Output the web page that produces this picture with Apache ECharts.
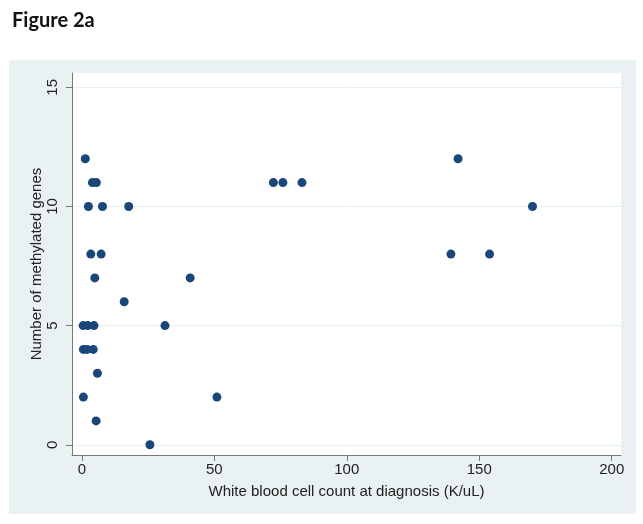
<!DOCTYPE html>
<html>
<head>
<meta charset="utf-8">
<script src="https://cdn.jsdelivr.net/npm/echarts@6/dist/echarts.min.js"></script>
<style>html,body{margin:0;padding:0;background:#fff;}#c{width:643px;height:524px;}</style>
</head>
<body>
<div id="c"></div>
<script>
const wbc = [1.3,4.0,5.5,2.5,7.8,17.7,3.4,7.3,4.9,16.0,0.5,2.3,4.6,0.6,2.0,4.3,5.9,0.6,5.4,25.7,72.3,75.9,83.1,40.9,31.4,51.0,142.0,170.1,139.3,153.9];
const genes = [12,11,11,10,10,10,8,8,7,6,5,5,5,4,4,4,3,2,1,0,11,11,11,7,5,2,12,10,8,8];
const xTicks = [0,50,100,150,200];
const yTicks = [0,5,10,15];
const points = wbc.map((v,i)=>[v,genes[i]]);

const chart = echarts.init(document.getElementById('c'), null, {renderer:'canvas'});
const font = 'Liberation Sans, Arial, sans-serif';
chart.setOption({
  animation:false,
  backgroundColor:'#ffffff',
  title:{text:'Figure 2a', left:7, top:6, textStyle:{fontFamily:'Lato, Open Sans, sans-serif', fontWeight:'bold', fontSize:20, color:'#111'}},
  graphic:[{type:'rect', z:-10, shape:{x:9,y:60,width:627,height:454}, style:{fill:'#eaf1f3'}}],
  grid:{left:72, top:73, right:22, bottom:69, show:true, backgroundColor:'#ffffff', borderWidth:0, containLabel:false},
  xAxis:{type:'value', min:-3.7, max:203.5,
    axisLine:{show:true, onZero:false, lineStyle:{color:'#777', width:1}},
    axisTick:{show:true, length:6, lineStyle:{color:'#777'}, customValues:xTicks},
    axisLabel:{fontFamily:font, fontSize:15, color:'#222', margin:7, customValues:xTicks},
    splitLine:{show:false},
    name:'White blood cell count at diagnosis (K/uL)', nameLocation:'middle', nameGap:29, nameMoveOverlap:false,
    nameTextStyle:{fontFamily:font, fontSize:15, color:'#222'}},
  yAxis:{type:'value', min:-0.43, max:15.6,
    axisLine:{show:true, onZero:false, lineStyle:{color:'#777', width:1}},
    axisTick:{show:true, length:6, lineStyle:{color:'#777'}, customValues:yTicks},
    axisLabel:{fontFamily:font, fontSize:15, color:'#222', rotate:90, margin:12, customValues:yTicks},
    splitLine:{show:true, lineStyle:{color:'#e6eff2', width:1}},
    name:'Number of methylated genes', nameLocation:'middle', nameGap:28, nameMoveOverlap:false,
    nameTextStyle:{fontFamily:font, fontSize:15, color:'#222'}},
  series:[{type:'scatter', data:points, symbol:'circle', symbolSize:9,
    itemStyle:{color:'#1a477a', opacity:1}}]
});
</script>
</body>
</html>
